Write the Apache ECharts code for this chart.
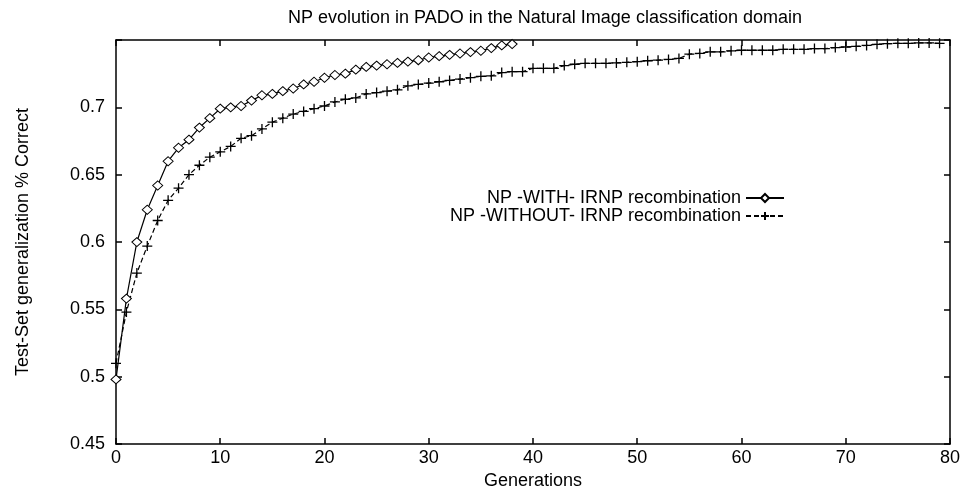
<!DOCTYPE html>
<html>
<head>
<meta charset="utf-8">
<script src="https://cdn.jsdelivr.net/npm/echarts@6/dist/echarts.min.js"></script>
<style>html,body{margin:0;padding:0;background:#fff;}#c{width:963px;height:495px;}</style>
</head>
<body>
<div id="c"></div>
<script>
var titleText = 'NP evolution in PADO in the Natural Image classification domain';
var xName = 'Generations';
var yName = 'Test-Set generalization % Correct';
var seriesNames = ['NP -WITH- IRNP recombination', 'NP -WITHOUT- IRNP recombination'];

var genWith = [0,1,2,3,4,5,6,7,8,9,10,11,12,13,14,15,16,17,18,19,20,21,22,23,24,25,26,27,28,29,30,31,32,33,34,35,36,37,38];
var withIRNP = [0.498,0.558,0.600,0.624,0.642,0.660,0.670,0.676,0.685,0.692,0.699,0.700,0.701,0.705,0.709,0.710,0.712,0.714,0.717,0.719,0.722,0.724,0.725,0.728,0.730,0.731,0.732,0.733,0.734,0.735,0.737,0.738,0.739,0.740,0.741,0.742,0.744,0.746,0.747];

var genWithout = [0,1,2,3,4,5,6,7,8,9,10,11,12,13,14,15,16,17,18,19,20,21,22,23,24,25,26,27,28,29,30,31,32,33,34,35,36,37,38,39,40,41,42,43,44,45,46,47,48,49,50,51,52,53,54,55,56,57,58,59,60,61,62,63,64,65,66,67,68,69,70,71,72,73,74,75,76,77,78,79];
var withoutIRNP = [0.510,0.548,0.577,0.597,0.616,0.631,0.640,0.650,0.657,0.663,0.667,0.671,0.677,0.679,0.684,0.689,0.692,0.695,0.697,0.699,0.701,0.704,0.706,0.707,0.710,0.711,0.712,0.713,0.716,0.717,0.718,0.719,0.720,0.721,0.722,0.723,0.7234,0.7258,0.7265,0.7265,0.729,0.729,0.729,0.731,0.732,0.7327,0.7327,0.7327,0.733,0.7334,0.7339,0.7346,0.735,0.7356,0.7363,0.7395,0.740,0.7412,0.7412,0.742,0.7424,0.7424,0.7424,0.7424,0.7431,0.7431,0.7431,0.7436,0.7436,0.7444,0.7448,0.7453,0.746,0.7468,0.7473,0.7475,0.7475,0.7478,0.7478,0.7475];

var yTicks = [0.45,0.5,0.55,0.6,0.65,0.7];

function pairs(xs, ys){ return xs.map(function(x,i){ return [x, ys[i]]; }); }

var FONT = 'Liberation Sans';
var FS = 18;
var chart = echarts.init(document.getElementById('c'), null, {renderer:'canvas'});
var plusPath = 'path://M0,5 L10,5 M5,0 L5,10';
var diamondPath = 'path://M5,0 L10,5 L5,10 L0,5 Z';

chart.setOption({
  animation: false,
  backgroundColor: '#fff',
  title: {
    text: titleText,
    left: 540, top: 4,
    textAlign: 'center',
    textStyle: {fontFamily: FONT, fontSize: FS, fontWeight: 'normal', color: '#000'}
  },
  legend: {
    orient: 'vertical',
    right: 173, top: 184,
    align: 'right',
    itemWidth: 38, itemHeight: 10, itemGap: 0,
    textStyle: {fontFamily: FONT, fontSize: FS, color: '#000', lineHeight: 15},
    data: seriesNames
  },
  grid: {left: 116, right: 12, top: 40, bottom: 45, containLabel: false},
  xAxis: [{
    type: 'value', min: 0, max: 80, interval: 10,
    name: xName, nameLocation: 'middle', nameGap: 27,
    nameTextStyle: {fontFamily: FONT, fontSize: FS, color: '#000'},
    axisLine: {show: true, onZero: false, lineStyle: {color: '#000', width: 1.5}},
    axisTick: {show: true, inside: true, length: 6, lineStyle: {color: '#000', width: 1.5}},
    axisLabel: {fontFamily: FONT, fontSize: FS, color: '#000', margin: 5},
    splitLine: {show: false}
  }, {
    type: 'value', min: 0, max: 80, interval: 10, position: 'top',
    axisLine: {show: true, onZero: false, lineStyle: {color: '#000', width: 1.5}},
    axisTick: {show: true, inside: true, length: 6, lineStyle: {color: '#000', width: 1.5}},
    axisLabel: {show: false}, splitLine: {show: false}
  }],
  yAxis: [{
    type: 'value', min: 0.45, max: 0.75, interval: 0.05,
    name: yName, nameLocation: 'middle', nameGap: 84,
    nameTextStyle: {fontFamily: FONT, fontSize: FS, color: '#000'},
    axisLine: {show: true, onZero: false, lineStyle: {color: '#000', width: 1.5}},
    axisTick: {show: true, inside: true, length: 6, lineStyle: {color: '#000', width: 1.5}},
    axisLabel: {fontFamily: FONT, fontSize: FS, color: '#000', margin: 11,
      formatter: function(v){ var r = Math.round(v*100)/100; return yTicks.indexOf(r) >= 0 ? String(r) : ''; }},
    splitLine: {show: false}
  }, {
    type: 'value', min: 0.45, max: 0.75, interval: 0.05, position: 'right',
    axisLine: {show: true, onZero: false, lineStyle: {color: '#000', width: 1.5}},
    axisTick: {show: true, inside: true, length: 6, lineStyle: {color: '#000', width: 1.5}},
    axisLabel: {show: false}, splitLine: {show: false}
  }],
  series: [{
    name: seriesNames[0], type: 'line',
    data: pairs(genWith, withIRNP),
    symbol: diamondPath, symbolSize: [10, 9],
    lineStyle: {color: '#000', width: 1.2},
    itemStyle: {color: '#fff', borderColor: '#000', borderWidth: 1},
    z: 3
  }, {
    name: seriesNames[1], type: 'line',
    data: pairs(genWithout, withoutIRNP),
    symbol: plusPath, symbolSize: 10,
    lineStyle: {color: '#000', width: 1.2, type: [5, 3]},
    itemStyle: {color: '#000', borderColor: '#000', borderWidth: 1.3},
    z: 2
  }]
});
</script>
</body>
</html>
